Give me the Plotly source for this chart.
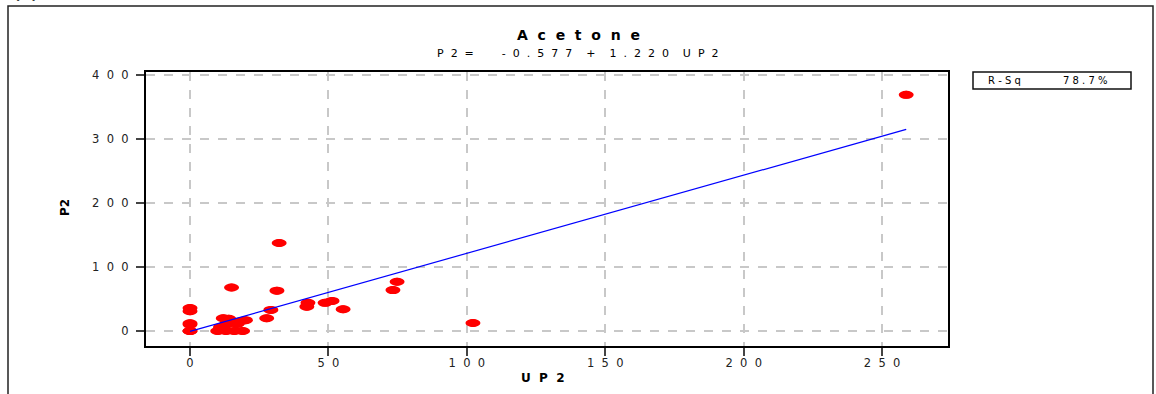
import plotly.graph_objects as go

# ---- data ----
up2 = [0, 0, 0, 0, 0, 0,
       10, 11, 12, 13, 13, 14, 16, 17, 18, 19, 20,
       15,
       27.7, 29.2, 31.4, 32.2,
       42.2, 42.6, 48.8, 51.3, 55.3,
       73.3, 74.8,
       102.2,
       258.7]
p2 = [0, 0, 10, 12, 31, 36,
      0, 6, 20, 0, 10, 19, 0, 11, 15, 0, 17,
      68,
      20, 33, 63, 137.5,
      38, 44, 44, 47, 34,
      64, 77,
      12.5,
      369]
intercept = -0.577
slope = 1.220
r_sq = "78.7%"
x_ticks = [0, 50, 100, 150, 200, 250]
y_ticks = [0, 100, 200, 300, 400]

NB = "\u00a0"


def spaced(s, gap=2, word_gap=4):
    out = []
    for ch in s:
        if ch == " ":
            out.append(NB * word_gap)
        else:
            out.append(ch)
    res = ""
    for i, ch in enumerate(out):
        res += ch
        if i < len(out) - 1 and not ch.startswith(NB) and not out[i + 1].startswith(NB):
            res += NB * gap
    return res


# geometry (pixels) of plot area
L, R, T, B = 146, 948, 72, 346
W, H = 1156, 394


def px(xp):
    return (xp - L) / (R - L)


def py(yp):
    return (B - yp) / (B - T)


font = "DejaVu Sans"

fig = go.Figure()

# points (trace) + elliptical marker shapes in data coordinates
fig.add_trace(go.Scatter(x=up2, y=p2, mode="markers",
                         marker=dict(color="#ff0000", size=8, line=dict(width=0)),
                         hoverinfo="x+y", showlegend=False))

xs = sorted(set(up2))
fit = [intercept + slope * v for v in xs]
fig.add_trace(go.Scatter(x=xs, y=fit, mode="lines",
                         line=dict(color="#0000ff", width=1.2),
                         showlegend=False))

x_range = [-15.9, 273.8]
y_range = [-23.4, 404.7]
hw = 7.5 * (x_range[1] - x_range[0]) / (R - L)
hh = 4.0 * (y_range[1] - y_range[0]) / (B - T)
shapes = []
for xv, yv in zip(up2, p2):
    shapes.append(dict(type="circle", xref="x", yref="y",
                       x0=xv - hw, x1=xv + hw, y0=yv - hh, y1=yv + hh,
                       fillcolor="#ff0000", line=dict(width=0), layer="between"))

# outer frame (left, top, right)
shapes.append(dict(type="path", xref="paper", yref="paper",
                   path=f"M {px(8)} {py(420)} L {px(8)} {py(6)} L {px(1153)} {py(6)} L {px(1153)} {py(420)}",
                   line=dict(color="#222", width=1.5)))
# R-Sq box
shapes.append(dict(type="rect", xref="paper", yref="paper",
                   x0=px(973), x1=px(1131), y0=py(89), y1=py(72),
                   line=dict(color="#111", width=1.5), fillcolor="white"))

annotations = [
    dict(text="<b>" + spaced("Acetone") + "</b>", x=px(578), y=py(35), xref="paper", yref="paper",
         showarrow=False, font=dict(family=font, size=14, color="#000"), xanchor="center", yanchor="middle"),
    dict(text=spaced("P2=  -0.577 + 1.220 UP2", gap=2, word_gap=4), x=px(578), y=py(53), xref="paper", yref="paper",
         showarrow=False, font=dict(family=font, size=11, color="#000"), xanchor="center", yanchor="middle"),
    dict(text="<b>" + spaced("UP2") + "</b>", x=px(543), y=py(378), xref="paper", yref="paper",
         showarrow=False, font=dict(family=font, size=12, color="#000"), xanchor="center", yanchor="middle"),
    dict(text="<b>P2</b>", x=px(65), y=py(208), xref="paper", yref="paper", textangle=-90,
         showarrow=False, font=dict(family=font, size=12, color="#000"), xanchor="center", yanchor="middle"),
    dict(text=spaced("R-Sq", gap=1), x=px(986), y=py(80.5), xref="paper", yref="paper",
         showarrow=False, font=dict(family=font, size=10, color="#000"), xanchor="left", yanchor="middle"),
    dict(text=spaced(r_sq, gap=1), x=px(1109), y=py(80.5), xref="paper", yref="paper",
         showarrow=False, font=dict(family=font, size=10, color="#000"), xanchor="right", yanchor="middle"),
    dict(text="<b>(A)</b>", x=px(12), y=py(4), xref="paper", yref="paper",
         showarrow=False, font=dict(family=font, size=14, color="#000"), xanchor="left", yanchor="bottom"),
]

axis_common = dict(
    showline=True, linecolor="#000", linewidth=2, mirror=True,
    ticks="outside", ticklen=8, tickwidth=2, tickcolor="#444",
    showgrid=True, gridcolor="#c8c8c8", griddash="dash", gridwidth=1.5,
    zeroline=False,
)

fig.update_layout(
    width=W, height=H,
    margin=dict(l=L, r=W - R, t=T, b=H - B, pad=0),
    paper_bgcolor="white", plot_bgcolor="white",
    xaxis=dict(range=x_range, tickvals=x_ticks, ticktext=[spaced(str(v)) for v in x_ticks],
               tickfont=dict(family=font, size=11.5, color="#222"), ticklabelstandoff=-3, **axis_common),
    yaxis=dict(range=y_range, tickvals=y_ticks, ticktext=[spaced(str(v)) for v in y_ticks],
               tickfont=dict(family=font, size=11.5, color="#222"), ticklabelstandoff=5, **axis_common),
    shapes=shapes, annotations=annotations, showlegend=False,
)

fig.write_html("out.html")
